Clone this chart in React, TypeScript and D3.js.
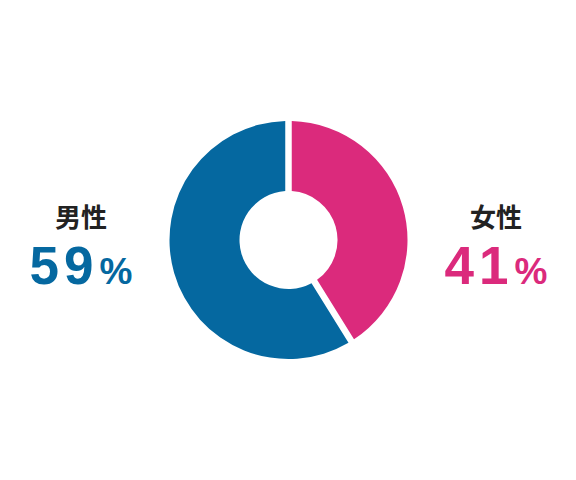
import React from "react";
import * as d3 from "d3";

const categories = ["女性", "男性"];
const values = [41, 59];
const colors = ["#DB2A7C", "#0568A0"];

const W = 576;
const H = 480;
const cx = 288.5;
const cy = 240;
const outerR = 119;
const innerR = 49;

export default function App() {
  const pie = d3
    .pie<number>()
    .sort(null)
    .value((d) => d)
    .padAngle(6.5 / outerR);
  const arcs = pie(values);
  const arc = d3
    .arc<d3.PieArcDatum<number>>()
    .innerRadius(innerR)
    .outerRadius(outerR)
    .padRadius(outerR);

  const labelPos = [
    { x: 496, color: colors[0] },
    { x: 81, color: colors[1] },
  ];

  return (
    <svg
      width={W}
      height={H}
      style={{ position: "absolute", left: 0, top: 0, background: "#fff" }}
    >
      <g transform={`translate(${cx},${cy})`}>
        {arcs.map((a, i) => (
          <path key={i} d={arc(a) || ""} fill={colors[i]} />
        ))}
      </g>
      {categories.map((c, i) => (
        <g key={c}>
          <text
            x={labelPos[i].x}
            y={227}
            textAnchor="middle"
            fontFamily="'Noto Sans CJK JP', sans-serif"
            fontWeight={700}
            fontSize={26}
            fill="#222"
          >
            {c}
          </text>
          <text
            x={labelPos[i].x}
            y={284}
            textAnchor="middle"
            fontFamily="'Liberation Sans', Arial, sans-serif"
            fontWeight={700}
            fill={labelPos[i].color}
          >
            <tspan fontSize={53} letterSpacing={5} dx={0}>
              {values[i]}
            </tspan>
            <tspan fontSize={37} dx={1}>
              %
            </tspan>
          </text>
        </g>
      ))}
    </svg>
  );
}
